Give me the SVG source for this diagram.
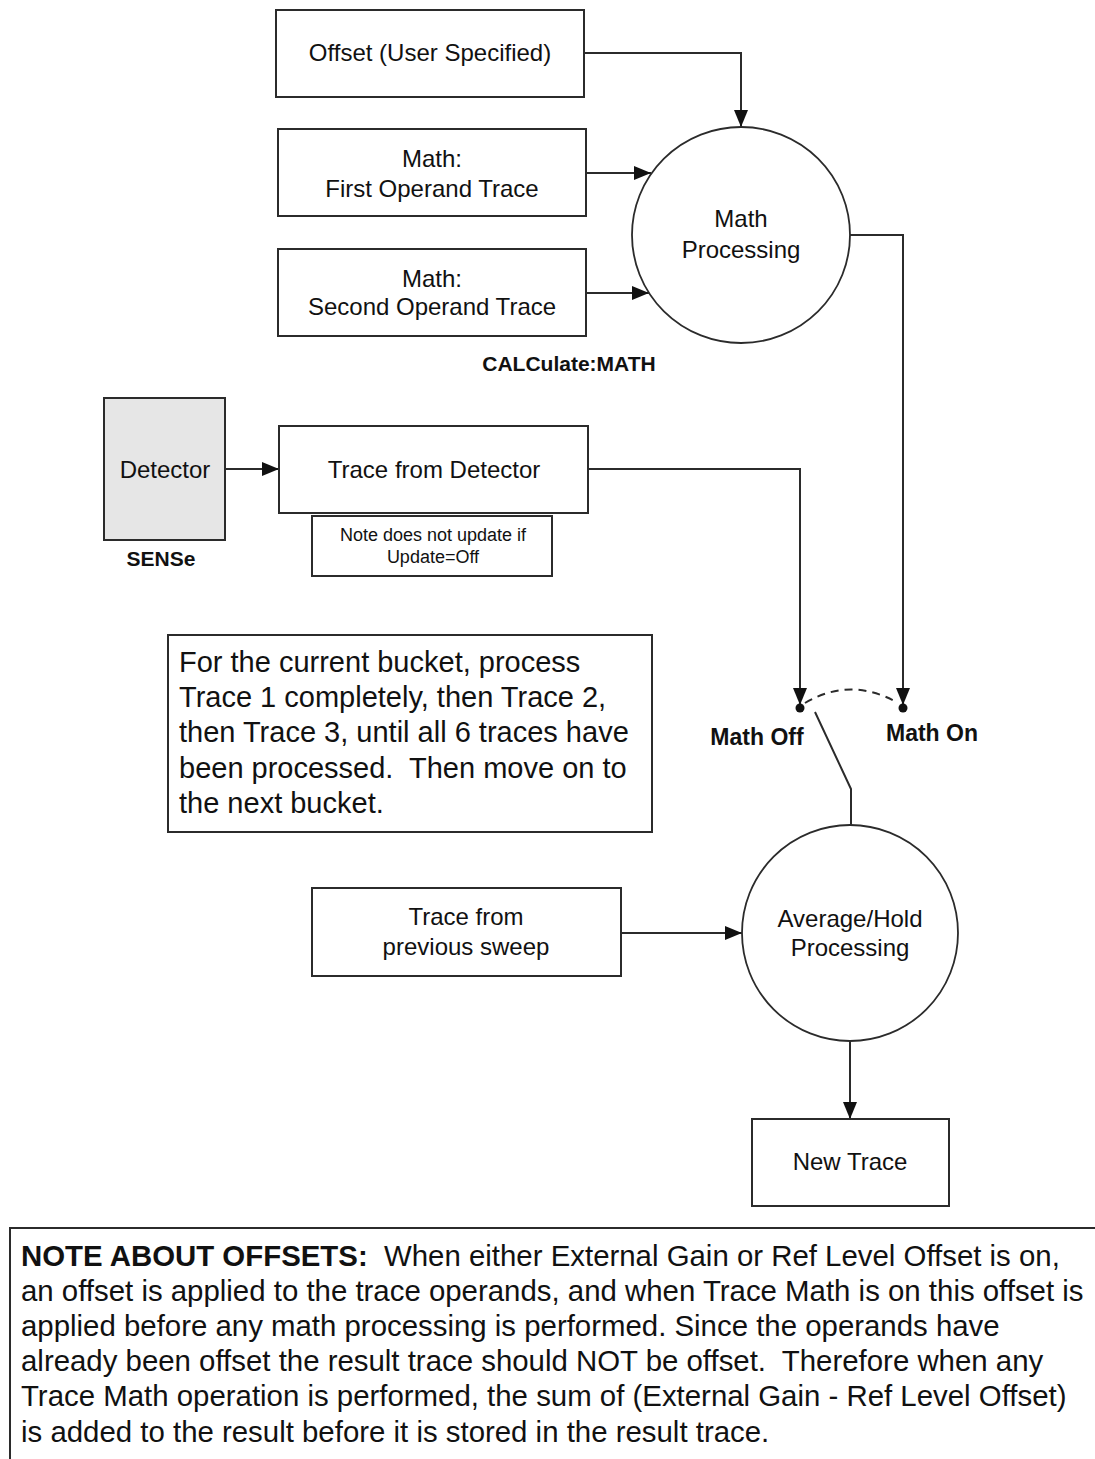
<svg xmlns="http://www.w3.org/2000/svg" width="1095" height="1459" viewBox="0 0 1095 1459">
<style>
.box{fill:#fff;stroke:#2b2b2b;stroke-width:2}
.gray{fill:#e6e6e6;stroke:#2b2b2b;stroke-width:2}
.circ{fill:#fff;stroke:#2b2b2b;stroke-width:1.8}
.conn{fill:none;stroke:#2b2b2b;stroke-width:2}
.dash{fill:none;stroke:#2b2b2b;stroke-width:2;stroke-dasharray:8,6}
text{font-family:"Liberation Sans",Arial,sans-serif;fill:#111;white-space:pre}
.lbl{font-size:24px;text-anchor:middle}
.sm{font-size:18px;text-anchor:middle}
.bold{font-weight:bold}
.big{font-size:29px}
.big2{font-size:29.4px}
</style>
<defs>
<marker id="arr" markerUnits="userSpaceOnUse" markerWidth="18" markerHeight="14" refX="17" refY="7" orient="auto">
<path d="M0,0 L17,7 L0,14 z" fill="#111"/>
</marker>
</defs>

<g id="connectors">
<path class="conn" d="M584,53 H741 V127" marker-end="url(#arr)"/>
<path class="conn" d="M586,173 H651" marker-end="url(#arr)"/>
<path class="conn" d="M586,293 H649" marker-end="url(#arr)"/>
<path class="conn" d="M850,235 H903 V705" marker-end="url(#arr)"/>
<path class="conn" d="M225,469 H279" marker-end="url(#arr)"/>
<path class="conn" d="M588,469 H800 V705" marker-end="url(#arr)"/>
<path class="dash" d="M805,703 Q851,676 898,703"/>
<path class="conn" d="M815,712 L851,789 V825"/>
<path class="conn" d="M621,933 H742" marker-end="url(#arr)"/>
<path class="conn" d="M850,1042 V1119" marker-end="url(#arr)"/>
<circle cx="800" cy="708" r="4.5" fill="#111"/>
<circle cx="903" cy="708" r="4.5" fill="#111"/>
</g>

<g id="offset">
<rect class="box" x="276" y="10" width="308" height="87"/>
<text class="lbl" x="430" y="61">Offset (User Specified)</text>
</g>

<g id="first-operand">
<rect class="box" x="278" y="129" width="308" height="87"/>
<text class="lbl" x="432" y="167">Math:</text>
<text class="lbl" x="432" y="197">First Operand Trace</text>
</g>

<g id="second-operand">
<rect class="box" x="278" y="249" width="308" height="87"/>
<text class="lbl" x="432" y="287">Math:</text>
<text class="lbl" x="432" y="315">Second Operand Trace</text>
</g>

<g id="math-processing">
<ellipse class="circ" cx="741" cy="235" rx="109" ry="108"/>
<text class="lbl" x="741" y="227">Math</text>
<text class="lbl" x="741" y="258">Processing</text>
</g>

<g id="calc-label">
<text class="bold" x="569" y="371" font-size="21" text-anchor="middle">CALCulate:MATH</text>
</g>

<g id="detector">
<rect class="gray" x="104" y="398" width="121" height="142"/>
<text class="lbl" x="165" y="478">Detector</text>
<text class="bold" x="161" y="566" font-size="21" text-anchor="middle">SENSe</text>
</g>

<g id="trace-from-detector">
<rect class="box" x="279" y="426" width="309" height="87"/>
<text class="lbl" x="434" y="478">Trace from Detector</text>
</g>

<g id="update-note">
<rect class="box" x="312" y="516" width="240" height="60"/>
<text class="sm" x="433" y="541">Note does not update if</text>
<text class="sm" x="433" y="563">Update=Off</text>
</g>

<g id="bucket-note">
<rect class="box" x="168" y="635" width="484" height="197"/>
<text class="big" x="179" y="672">For the current bucket, process</text>
<text class="big" x="179" y="707">Trace 1 completely, then Trace 2,</text>
<text class="big" x="179" y="742">then Trace 3, until all 6 traces have</text>
<text class="big" x="179" y="778">been processed.  Then move on to</text>
<text class="big" x="179" y="813">the next bucket.</text>
</g>

<g id="switch-labels">
<text class="bold" x="757" y="745" font-size="23" text-anchor="middle">Math Off</text>
<text class="bold" x="932" y="741" font-size="23" text-anchor="middle">Math On</text>
</g>

<g id="previous-sweep">
<rect class="box" x="312" y="888" width="309" height="88"/>
<text class="lbl" x="466" y="925">Trace from</text>
<text class="lbl" x="466" y="955">previous sweep</text>
</g>

<g id="average-hold">
<ellipse class="circ" cx="850" cy="933" rx="108" ry="108"/>
<text class="lbl" x="850" y="927">Average/Hold</text>
<text class="lbl" x="850" y="956">Processing</text>
</g>

<g id="new-trace">
<rect class="box" x="752" y="1119" width="197" height="87"/>
<text class="lbl" x="850" y="1170">New Trace</text>
</g>

<g id="offsets-note">
<rect class="box" x="10" y="1228" width="1100" height="260"/>
<text class="big2" x="21" y="1266"><tspan font-weight="bold">NOTE ABOUT OFFSETS:</tspan>  When either External Gain or Ref Level Offset is on,</text>
<text class="big2" x="21" y="1301">an offset is applied to the trace operands, and when Trace Math is on this offset is</text>
<text class="big2" x="21" y="1336">applied before any math processing is performed. Since the operands have</text>
<text class="big2" x="21" y="1371">already been offset the result trace should NOT be offset.  Therefore when any</text>
<text class="big2" x="21" y="1406">Trace Math operation is performed, the sum of (External Gain - Ref Level Offset)</text>
<text class="big2" x="21" y="1442">is added to the result before it is stored in the result trace.</text>
</g>
</svg>
